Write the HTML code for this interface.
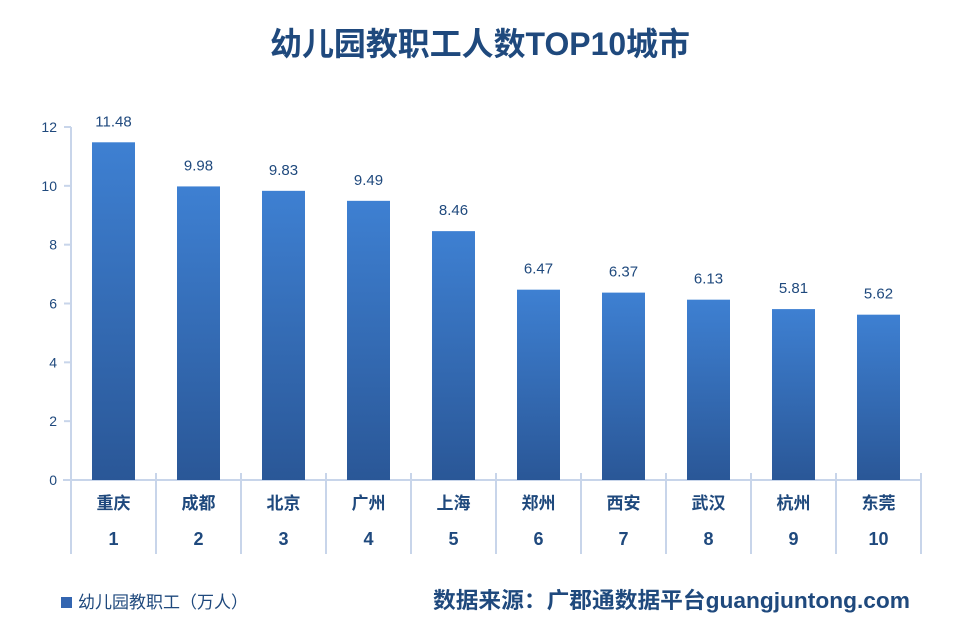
<!DOCTYPE html>
<html><head><meta charset="utf-8"><style>
body{margin:0;background:#fff;}
svg text{font-family:"Liberation Sans","Noto Sans CJK SC",sans-serif;}
</style></head><body>
<svg id="chart" width="970" height="619" viewBox="0 0 970 619" xmlns="http://www.w3.org/2000/svg">
<defs><linearGradient id="g" x1="0" y1="0" x2="0" y2="1"><stop offset="0" stop-color="#3e80d2"/><stop offset="1" stop-color="#2a5797"/></linearGradient></defs>
<text x="480" y="55" text-anchor="middle" font-size="32" font-weight="bold" fill="#1f497d" textLength="420" lengthAdjust="spacingAndGlyphs">幼儿园教职工人数TOP10城市</text>
<g id="axes"></g><g id="bars"></g>
<rect x="61" y="597" width="11" height="11" fill="#3365b0"/>
<text x="78" y="608" font-size="17" fill="#1f497d">幼儿园教职工（万人）</text>
<text x="910" y="608" text-anchor="end" font-size="22" font-weight="bold" fill="#1f497d" textLength="477" lengthAdjust="spacingAndGlyphs">数据来源：广郡通数据平台guangjuntong.com</text>
</svg>
<script>
const cities=["重庆","成都","北京","广州","上海","郑州","西安","武汉","杭州","东莞"];
const ranks=["1","2","3","4","5","6","7","8","9","10"];
const values=[11.48,9.98,9.83,9.49,8.46,6.47,6.37,6.13,5.81,5.62];
const valueLabels=["11.48","9.98","9.83","9.49","8.46","6.47","6.37","6.13","5.81","5.62"];
const yTicks=[0,2,4,6,8,10,12];
const NS="http://www.w3.org/2000/svg";
const x0=71,band=85,yBase=480,yTop=127,yMax=12;
function y(v){return yBase-(yBase-yTop)*v/yMax;}
function xc(i){return x0+band*(i+0.5);}
function mk(tag,attrs,parent,txt){const e=document.createElementNS(NS,tag);for(const k in attrs)e.setAttribute(k,attrs[k]);if(txt!==undefined)e.textContent=txt;parent.appendChild(e);return e;}
const ax=document.getElementById('axes'),bs=document.getElementById('bars');
const lc="#c8d5ea";
let e=mk('line',{x1:x0,y1:yTop,x2:x0,y2:yBase,stroke:lc,'stroke-width':2},ax);


e=mk('line',{x1:63,y1:yBase,x2:x0+band*cities.length,y2:yBase,stroke:lc,'stroke-width':2},ax);


yTicks.forEach(t=>{
 mk('line',{x1:64,y1:y(t),x2:x0,y2:y(t),stroke:lc,'stroke-width':2},ax);
 const tx=mk('text',{x:57,y:y(t)+5,'text-anchor':'end','font-size':14,fill:'#1f497d'},ax,String(t));
 
 
});
for(let i=0;i<=cities.length;i++){
 const s=mk('line',{x1:x0+band*i,y1:473,x2:x0+band*i,y2:554,stroke:lc,'stroke-width':2},ax);
 
 
}
cities.forEach((c,i)=>{
 const r=mk('rect',{x:xc(i)-21.5,y:y(values[i]),width:43,height:yBase-y(values[i]),fill:'url(#g)'},bs);
 
 
 const l=mk('text',{x:xc(i),y:y(values[i])-16,'text-anchor':'middle','font-size':15,fill:'#1f497d'},bs,valueLabels[i]);
 
 
 const n=mk('text',{x:xc(i),y:509,'text-anchor':'middle','font-size':17,'font-weight':'bold',fill:'#1f497d'},bs,c);
 
 
 const k=mk('text',{x:xc(i),y:545,'text-anchor':'middle','font-size':18,'font-weight':'bold',fill:'#1f497d'},bs,ranks[i]);
 
 
});
</script>
</body></html>
